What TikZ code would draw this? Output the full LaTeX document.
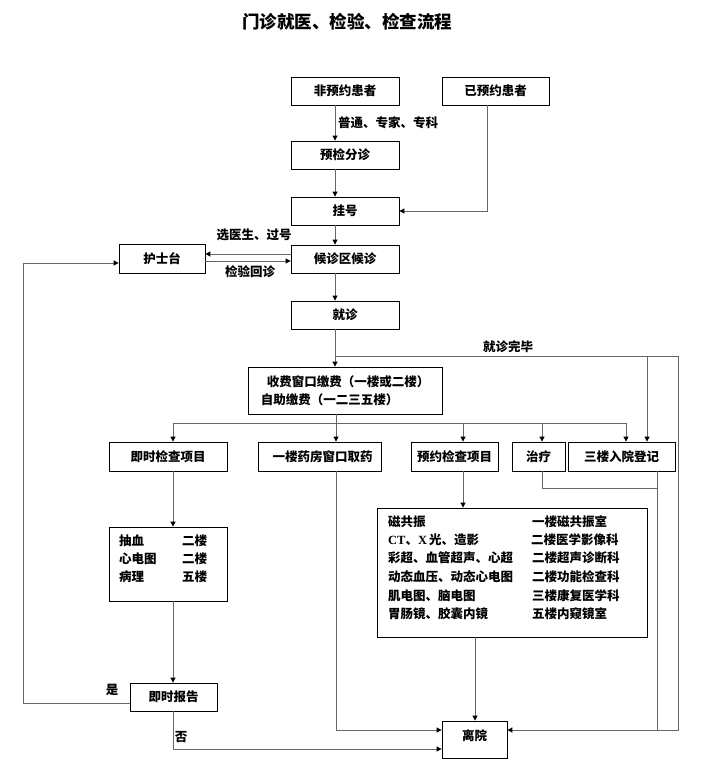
\documentclass[tikz,border=0pt]{standalone}
\usepackage{fontspec}
\setmainfont{Noto Sans CJK SC}
\newfontfamily\latserif{Liberation Serif}
\usetikzlibrary{arrows.meta,calc}
\newcommand{\myfs}{\fontsize{12.5}{15}\selectfont\bfseries}
\newcommand{\mytitlefs}{\fontsize{17.5}{20}\selectfont\bfseries}
\begin{document}
\begin{tikzpicture}[x=1pt,y=-1pt,
  box/.style={draw=black,line width=0.8pt,inner sep=0pt,font=\myfs},
  conn/.style={draw=black!60,line width=0.9pt},
  arr/.style={conn,-{Triangle[length=5pt,width=5pt,color=black]}},
  lbl/.style={inner sep=0pt,font=\myfs}]
\useasboundingbox (0,0) rectangle (701,770);
\fill[white] (0,0) rectangle (701,770);

% title
\node[inner sep=0pt,font=\mytitlefs] (title) at (347,22) {门诊就医、检验、检查流程};

% boxes
\node[box,minimum width=108pt,minimum height=28pt] (n1) at (345,91) {非预约患者};
\node[box,minimum width=107pt,minimum height=28pt] (n2) at (495.5,91) {已预约患者};
\node[box,minimum width=108pt,minimum height=28pt] (n3) at (345,155) {预检分诊};
\node[box,minimum width=108pt,minimum height=28pt] (n4) at (345,211) {挂号};
\node[box,minimum width=108pt,minimum height=28pt] (n5) at (345,259) {候诊区候诊};
\node[box,minimum width=86pt,minimum height=29pt] (n6) at (162,258.5) {护士台};
\node[box,minimum width=108pt,minimum height=28pt] (n7) at (345,315) {就诊};
\node[box,minimum width=194pt,minimum height=47pt,align=left] (n8) at (345,390.5)
  {\hspace{6pt}收费窗口缴费（一楼或二楼）\\[3pt]自助缴费（一二三五楼）};

\node[box,minimum width=118pt,minimum height=29pt] (b1) at (168,456.5) {即时检查项目};
\node[box,minimum width=123pt,minimum height=29pt] (b2) at (319.5,456.5) {\hspace{6pt}一楼药房窗口取药};
\node[box,minimum width=87pt,minimum height=29pt] (b3) at (454.5,456.5) {预约检查项目};
\node[box,minimum width=53pt,minimum height=29pt] (b4) at (538.5,456.5) {治疗};
\node[box,minimum width=107pt,minimum height=29pt] (b5) at (621.5,456.5) {三楼入院登记};

\node[box,minimum width=118pt,minimum height=74pt] (c1) at (168,564) {};
\node[box,minimum width=270pt,minimum height=129pt] (c2) at (512,572.5) {};
\node[box,minimum width=87pt,minimum height=28pt] (r1) at (173.5,697) {即时报告};
\node[box,minimum width=65pt,minimum height=37pt,text depth=8pt] (lv) at (474.5,739.5) {离院};

% c1 contents
\node[lbl,anchor=west] (c1a) at (119,541) {抽血};
\node[lbl,anchor=west] (c1b) at (119,559) {心电图};
\node[lbl,anchor=west] (c1c) at (119,577) {病理};
\node[lbl,anchor=west] (c1d) at (182,541) {二楼};
\node[lbl,anchor=west] (c1e) at (182,559) {二楼};
\node[lbl,anchor=west] (c1f) at (182,577) {五楼};

% c2 contents
\node[lbl,anchor=west] (c2a) at (388,522) {磁共振};
\node[lbl,anchor=west] (c2b) at (388,540) {{\latserif\bfseries CT}、{\latserif\bfseries X\,}光、造影};
\node[lbl,anchor=west] (c2c) at (388,558) {彩超、血管超声、心超};
\node[lbl,anchor=west] (c2d) at (388,577) {动态血压、动态心电图};
\node[lbl,anchor=west] (c2e) at (388,596) {肌电图、脑电图};
\node[lbl,anchor=west] (c2f) at (388,614) {胃肠镜、胶囊内镜};
\node[lbl,anchor=west] (c2g) at (532,522) {一楼磁共振室};
\node[lbl,anchor=west] (c2h) at (531,540) {二楼医学影像科};
\node[lbl,anchor=west] (c2i) at (532,558) {二楼超声诊断科};
\node[lbl,anchor=west] (c2j) at (532,577) {二楼功能检查科};
\node[lbl,anchor=west] (c2k) at (532,596) {三楼康复医学科};
\node[lbl,anchor=west] (c2l) at (532,614) {五楼内窥镜室};

% labels
\node[lbl,anchor=west] (l1) at (338,123) {普通、专家、专科};
\node[lbl] (l2) at (254,235) {选医生、过号};
\node[lbl] (l3) at (250,272) {检验回诊};
\node[lbl] (l4) at (508,347) {就诊完毕};
\node[lbl] (l5) at (112,690) {是};
\node[lbl] (l6) at (181,737) {否};

% helper coordinates
\coordinate (mx) at (335,0);
\coordinate (c2x) at (487,211);
\coordinate (y254) at (0,254);
\coordinate (y261) at (0,261);
\coordinate (j1) at (335,356);
\coordinate (j2) at (678,356);
\coordinate (j3) at (678,730);
\coordinate (j4) at (647,356);
\coordinate (k0) at (336,423);
\coordinate (k1) at (173,423);
\coordinate (k3) at (463,423);
\coordinate (k4) at (542,423);
\coordinate (k5) at (626,423);
\coordinate (m1) at (23,703);
\coordinate (m2) at (23,263);
\coordinate (q1) at (173,749);
\coordinate (q2) at (336,730);
\coordinate (q4) at (475,0);
\coordinate (q5) at (542,488);
\coordinate (q6) at (657,488);

% connectors
\draw[arr] (n1.south -| mx) -- (n3.north -| mx);
\draw[arr] (n3.south -| mx) -- (n4.north -| mx);
\draw[arr] (n2.south -| c2x) -- (c2x) -- (n4.east |- c2x);
\draw[arr] (n4.south -| mx) -- (n5.north -| mx);
\draw[arr] (n5.west |- y254) -- (n6.east |- y254);
\draw[arr] (n6.east |- y261) -- (n5.west |- y261);
\draw[arr] (n5.south -| mx) -- (n7.north -| mx);
\draw[arr] (n7.south -| mx) -- (n8.north -| mx);
\draw[arr] (j1) -- (j2) -- (j3) -- (lv.east |- j3);
\draw[arr] (j4) -- (b5.north -| j4);

\draw[conn] (k1) -- (k5);
\draw[arr] (n8.south -| k0) -- (b2.north -| k0);
\draw[arr] (k1) -- (b1.north -| k1);
\draw[arr] (k3) -- (b3.north -| k3);
\draw[arr] (k4) -- (b4.north -| k4);
\draw[arr] (k5) -- (b5.north -| k5);

\draw[arr] (b1.south -| k1) -- (c1.north -| k1);
\draw[arr] (c1.south -| k1) -- (r1.north -| k1);
\draw[arr] (r1.west |- m1) -- (m1) -- (m2) -- (n6.west |- m2);
\draw[arr] (r1.south -| q1) -- (q1) -- (lv.west |- q1);
\draw[arr] (b2.south -| q2) -- (q2) -- (lv.west |- q2);
\draw[arr] (b3.south -| k3) -- (c2.north -| k3);
\draw[arr] (c2.south -| q4) -- (lv.north -| q4);
\draw[conn] (b4.south -| q5) -- (q5) -- (q6);
\draw[conn] (b5.south -| q6) -- (q6 |- j3);
\end{tikzpicture}
\end{document}
